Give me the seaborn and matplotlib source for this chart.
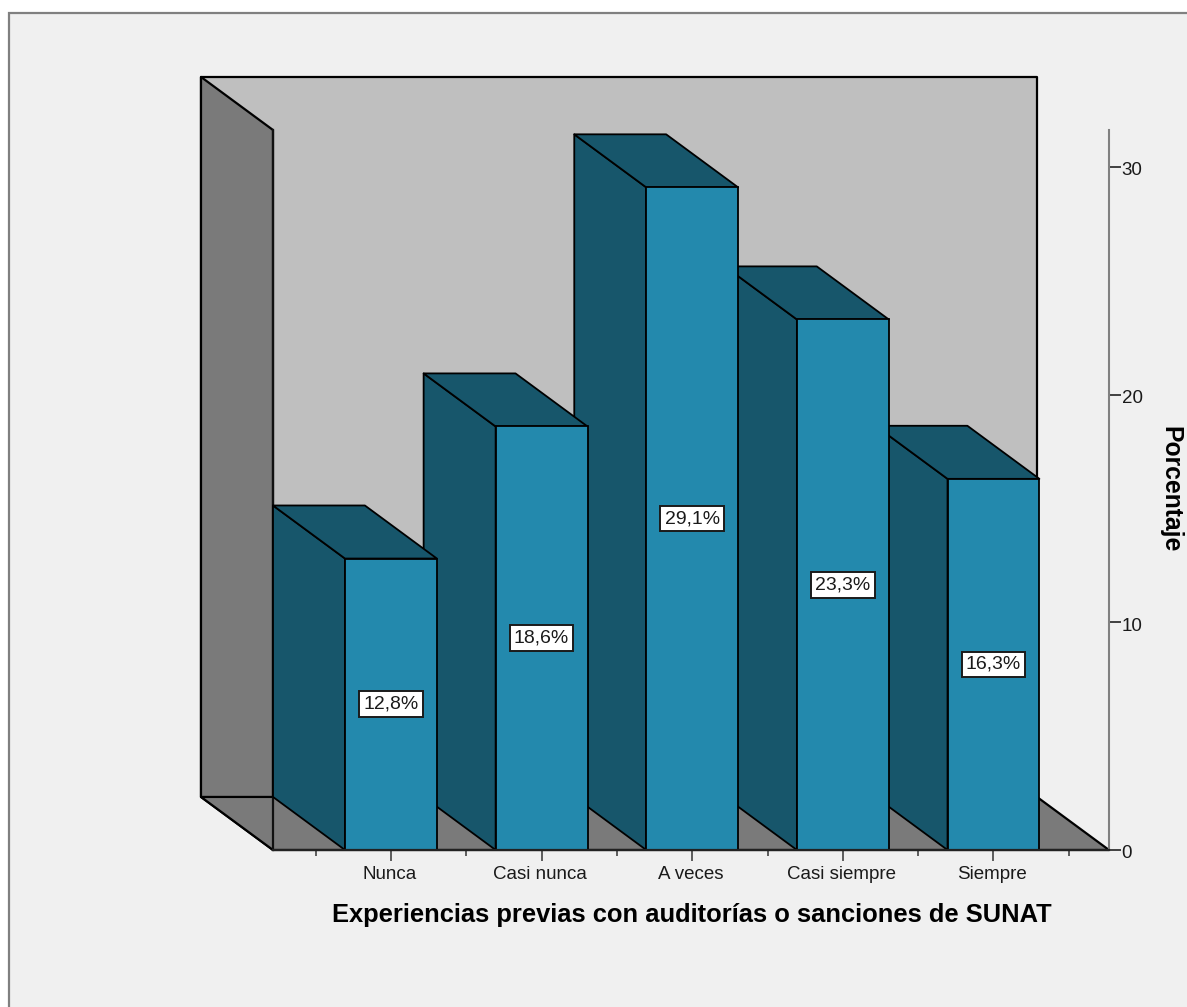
import matplotlib
matplotlib.use("Agg")
import matplotlib.pyplot as plt
from matplotlib.patches import Polygon, Rectangle
from matplotlib.transforms import ScaledTranslation
import seaborn as sns

categories = ["Nunca", "Casi nunca", "A veces", "Casi siempre", "Siempre"]
percentages = [12.8, 18.6, 29.1, 23.3, 16.3]
y_ticks = [0, 10, 20, 30]

FRONT = "#2389AD"
SHADE = "#17566B"
WALL = "#7A7A7A"
BACK = "#BFBFBF"
PANEL = "#F0F0F0"

# Oblique projection of the depth axis, in data units
DEPTH_X = -0.478
DEPTH_Y = 2.33
BAR_WIDTH = 0.61
X_LIM = (-0.783, 4.767)
Y_LIM = (0, 31.62)
EDGE_LW = 1.3
WALL_LW = 1.6

sns.set_style("white")
plt.rcParams["font.family"] = ["Liberation Sans", "DejaVu Sans"]

W, H = 1187, 1007
fig = plt.figure(figsize=(W / 100, H / 100), dpi=100, facecolor="white")
fig.patches.append(Rectangle((9 / W, -0.02), 1.1, 1.02 - 13 / H, transform=fig.transFigure,
                             facecolor=PANEL, edgecolor="#808080", linewidth=1.6, zorder=-5))

ax = fig.add_axes([273 / W, 1 - 850 / H, (1109 - 273) / W, (850 - 130) / H])
ax.patch.set_alpha(0)

sns.barplot(x=categories, y=percentages, color=FRONT, saturation=1, width=BAR_WIDTH,
            edgecolor="black", linewidth=EDGE_LW, ax=ax)
ax.set_xlim(*X_LIM)
ax.set_ylim(*Y_LIM)


def face(points, color, zorder, lw=EDGE_LW):
    ax.add_patch(Polygon(points, closed=True, facecolor=color, edgecolor="black",
                         linewidth=lw, joinstyle="round", zorder=zorder, clip_on=False))


bars = list(ax.patches)

# Room: back wall, left wall and floor (the floor sits over the wall's lower corner)
x0, x1 = X_LIM
y1 = Y_LIM[1]
face([(x0 + DEPTH_X, DEPTH_Y), (x1 + DEPTH_X, DEPTH_Y),
      (x1 + DEPTH_X, y1 + DEPTH_Y), (x0 + DEPTH_X, y1 + DEPTH_Y)], BACK, 1, WALL_LW)
face([(x0 + DEPTH_X, DEPTH_Y), (x0, 0), (x0, y1), (x0 + DEPTH_X, y1 + DEPTH_Y)], WALL, 1.1, WALL_LW)
face([(x0 + DEPTH_X, DEPTH_Y), (x1 + DEPTH_X, DEPTH_Y), (x1, 0), (x0, 0)], WALL, 1.2, WALL_LW)

# Bars are stacked right to left so each front face hides its right neighbour's side
for i, (bar, value) in enumerate(zip(bars, percentages)):
    z = 14 - 2 * i
    left = bar.get_x()
    right = left + bar.get_width()
    bar.set_zorder(z + 0.5)
    face([(left, 0), (left + DEPTH_X, DEPTH_Y), (left + DEPTH_X, value + DEPTH_Y), (left, value)],
         SHADE, z)
    face([(left, value), (left + DEPTH_X, value + DEPTH_Y),
          (right + DEPTH_X, value + DEPTH_Y), (right, value)], SHADE, z + 0.1)
    ax.text(i, value / 2, f"{value:.1f}%".replace(".", ","), ha="center", va="center",
            fontsize=14, color="#1A1A1A", zorder=20,
            bbox=dict(boxstyle="square,pad=0.22", facecolor="white", edgecolor="#1A1A1A",
                      linewidth=1.4))

# Axis dressing
sns.despine(ax=ax, left=False, right=False, top=True, bottom=False)
ax.spines["left"].set_color("#111111")
ax.spines["left"].set_linewidth(WALL_LW)
ax.spines["left"].set_zorder(3)
ax.spines["right"].set_color("#808080")
ax.spines["right"].set_linewidth(1.5)
ax.spines["bottom"].set_color("#222222")
ax.spines["bottom"].set_linewidth(1.6)
ax.spines["bottom"].set_zorder(18)

ax.yaxis.tick_right()
ax.set_yticks(y_ticks)
ax.tick_params(axis="y", which="major", length=8.6, width=1.2, color="#222222", pad=0.5,
               labelsize=13.5, labelcolor="#1A1A1A", left=False, right=True)
ax.set_xticks(range(len(categories)), labels=categories)
ax.set_xticks([i - 0.5 for i in range(len(categories) + 1)], minor=True)
ax.tick_params(axis="x", which="major", length=7.9, width=1.2, color="#444444", pad=3.5,
               labelsize=13.5, labelcolor="#1A1A1A", bottom=True)
ax.tick_params(axis="x", which="minor", length=4.3, width=1.2, color="#444444", bottom=True)

# Small nudges of the tick labels relative to their ticks
for label in ax.get_yticklabels():
    label.set_transform(label.get_transform() + ScaledTranslation(0, -2 / 100, fig.dpi_scale_trans))
for label in ax.get_xticklabels():
    label.set_transform(label.get_transform() + ScaledTranslation(-1.5 / 100, 0, fig.dpi_scale_trans))

ax.set_xlabel("Experiencias previas con auditorías o sanciones de SUNAT",
              fontsize=18.4, fontweight="bold", color="black", va="center")
ax.xaxis.set_label_coords((691.5 - 273) / 836, -(915 - 850) / 720)
ax.yaxis.set_label_position("right")
ax.set_ylabel("Porcentaje", fontsize=17.8, fontweight="bold", color="black",
              rotation=270, va="center", ha="center")
ax.yaxis.set_label_coords((1170 - 273) / 836, (850 - 489) / 720)

fig.savefig("out.png", dpi=100, facecolor=fig.get_facecolor())
